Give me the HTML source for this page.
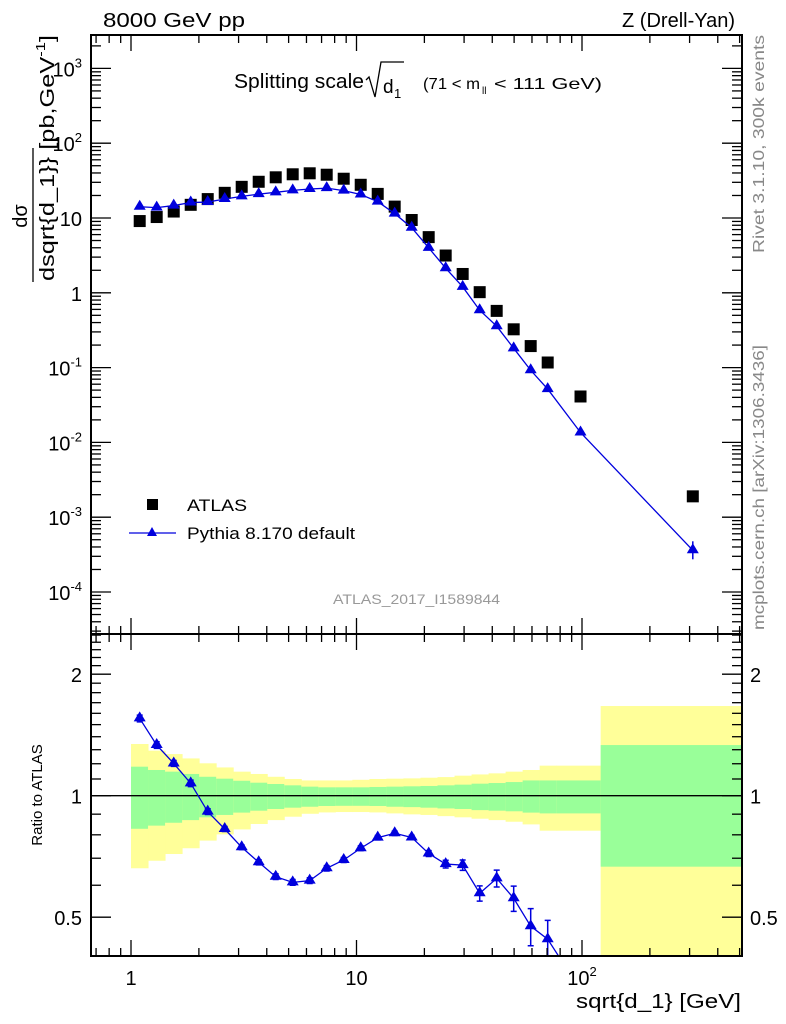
<!DOCTYPE html>
<html><head><meta charset="utf-8"><style>
html,body{margin:0;padding:0;background:#fff;width:786px;height:1024px;overflow:hidden}
svg{display:block;font-family:"Liberation Sans",sans-serif}
</style></head><body>
<svg id="chart" width="786" height="1024" viewBox="0 0 786 1024" xmlns="http://www.w3.org/2000/svg">
<g id="bands"></g>
<g id="marks"></g>
<g id="axes"></g>
<text x="103" y="27" font-size="20" textLength="142" lengthAdjust="spacingAndGlyphs">8000 GeV pp</text>
<text x="735" y="27" font-size="20" text-anchor="end">Z (Drell-Yan)</text>
<g>
<text x="234" y="88" font-size="20" textLength="130" lengthAdjust="spacingAndGlyphs">Splitting scale</text>
<path d="M366,80 l3,-3 l6,20 l6,-35 h23" fill="none" stroke="#000" stroke-width="1.3"/>
<text x="383" y="93" font-size="19">d</text><text x="394" y="98" font-size="13">1</text>
<text x="423" y="89" font-size="16" textLength="57" lengthAdjust="spacingAndGlyphs">(71 &lt; m</text><text x="482" y="94" font-size="10">ll</text><text x="494" y="89" font-size="16" textLength="108" lengthAdjust="spacingAndGlyphs">&lt; 111 GeV)</text>
</g>
<g>
<text transform="translate(27,216) rotate(-90)" font-size="20" text-anchor="middle">dσ</text>
<line x1="33" y1="148" x2="33" y2="282" stroke="#000" stroke-width="1.3"/>
<text transform="translate(54,281) rotate(-90)" font-size="20" textLength="246" lengthAdjust="spacingAndGlyphs">dsqrt{d_1}} [pb,GeV<tspan dy="-9" font-size="13">-1</tspan><tspan dy="9">]</tspan></text>
</g>
<text transform="translate(42,795) rotate(-90)" font-size="15" text-anchor="middle">Ratio to ATLAS</text>
<text x="741" y="1008" font-size="20" text-anchor="end" textLength="165" lengthAdjust="spacingAndGlyphs">sqrt{d_1} [GeV]</text>
<text transform="translate(764,253) rotate(-90)" font-size="16" fill="#888" textLength="218" lengthAdjust="spacingAndGlyphs">Rivet 3.1.10,  300k events</text>
<text transform="translate(764,630) rotate(-90)" font-size="16" fill="#888" textLength="285" lengthAdjust="spacingAndGlyphs">mcplots.cern.ch [arXiv:1306.3436]</text>
<text x="333" y="604" font-size="14" fill="#999" textLength="167" lengthAdjust="spacingAndGlyphs">ATLAS_2017_I1589844</text>
<g>
<rect x="147" y="499" width="11" height="11" fill="#000"/>
<text x="187" y="511" font-size="17" textLength="60" lengthAdjust="spacingAndGlyphs">ATLAS</text>
<line x1="129" y1="533" x2="176" y2="533" stroke="#0000dd" stroke-width="1.3"/>
<path d="M152,527 l5,9 h-10z" fill="#0000dd"/>
<text x="187" y="539" font-size="17" textLength="168" lengthAdjust="spacingAndGlyphs">Pythia 8.170 default</text>
</g>
</svg>
<script>
const xVals=[1.093,1.300,1.547,1.840,2.189,2.604,3.097,3.684,4.383,5.213,6.201,7.377,8.775,10.44,12.42,14.77,17.57,20.90,24.86,29.57,35.18,41.85,49.78,59.22,70.45,98.5,310];
const atlasVals=[9.1,10.3,12.2,15.0,17.9,21.7,26.1,30.5,35.0,38.4,39.6,37.9,33.5,27.8,21.0,14.2,9.4,5.55,3.15,1.785,1.02,0.573,0.325,0.194,0.117,0.0411,0.0019];
const ratioVals=[1.554,1.335,1.202,1.073,0.913,0.827,0.745,0.684,0.630,0.610,0.616,0.661,0.693,0.741,0.787,0.807,0.788,0.719,0.677,0.673,0.573,0.624,0.557,0.475,0.441,0.33,0.19];
const ratioErr=[0.03,0.025,0.02,0.02,0.015,0.012,0.01,0.01,0.01,0.01,0.01,0.01,0.01,0.01,0.01,0.01,0.01,0.012,0.015,0.02,0.025,0.03,0.04,0.05,0.05,0.05,0.03];
const binEdges=[1.0,1.19,1.416,1.685,2.005,2.386,2.839,3.378,4.019,4.782,5.69,6.771,8.057,9.587,11.41,13.57,16.15,19.22,22.87,27.21,32.38,38.53,45.84,54.55,64.9,77.2,121,600];
const yelUp=[1.343,1.293,1.268,1.237,1.203,1.175,1.147,1.132,1.114,1.100,1.091,1.091,1.091,1.095,1.100,1.102,1.104,1.108,1.112,1.121,1.129,1.136,1.147,1.158,1.187,1.187,1.668];
const yelLo=[0.661,0.690,0.717,0.741,0.774,0.802,0.825,0.851,0.870,0.887,0.902,0.909,0.911,0.911,0.909,0.904,0.899,0.896,0.890,0.884,0.877,0.870,0.862,0.849,0.819,0.819,0.3];
const grnUp=[1.180,1.158,1.147,1.132,1.114,1.102,1.089,1.077,1.069,1.061,1.053,1.049,1.049,1.049,1.051,1.053,1.055,1.057,1.061,1.065,1.071,1.075,1.081,1.091,1.091,1.091,1.335];
const grnLo=[0.828,0.843,0.857,0.870,0.884,0.896,0.908,0.918,0.927,0.934,0.939,0.943,0.944,0.944,0.943,0.939,0.937,0.934,0.930,0.927,0.921,0.918,0.915,0.908,0.904,0.904,0.667];
const yTicks=["10^-4","10^-3","10^-2","10^-1","1","10","10^2","10^3"];
const rTicks=["0.5","1","2"];
const xTicks=["1","10","10^2"];

const NS="http://www.w3.org/2000/svg";
const L=91,R=742,T=35,MID=634,B=956;
const sx=v=>131+225.5*Math.log10(v);
const sy=v=>292.8-74.8*Math.log10(v);
const sr=v=>795.7-121.5*Math.log2(v);
function mk(p,t,a){const e=document.createElementNS(NS,t);for(const k in a)e.setAttribute(k,a[k]);p.appendChild(e);return e;}
const bands=document.getElementById('bands'),marks=document.getElementById('marks'),axes=document.getElementById('axes');
const clipR=mk(document.querySelector('svg'),'clipPath',{id:'cr'});mk(clipR,'rect',{x:L,y:MID,width:R-L,height:B-MID});
bands.setAttribute('clip-path','url(#cr)');
for(let i=0;i<yelUp.length;i++){
 const x0=sx(binEdges[i]),x1=sx(binEdges[i+1]);
 let r=mk(bands,'rect',{x:x0,y:sr(yelUp[i]),width:x1-x0+0.5,height:sr(yelLo[i])-sr(yelUp[i]),fill:'#ffff99'});
 
 
 r=mk(bands,'rect',{x:x0,y:sr(grnUp[i]),width:x1-x0+0.5,height:sr(grnLo[i])-sr(grnUp[i]),fill:'#99ff99'});
 
 
}
mk(marks,'line',{x1:L,y1:sr(1),x2:R,y2:sr(1),stroke:'#000','stroke-width':1.3});
let pts=[];
for(let i=0;i<xVals.length;i++){
 const x=sx(xVals[i]),ya=sy(atlasVals[i]);
 const s=mk(marks,'rect',{x:x-6,y:ya-6,width:12,height:12,fill:'#000'});
 
 
 pts.push([x,sy(atlasVals[i]*ratioVals[i])]);
}
mk(marks,'polyline',{points:pts.map(p=>p.join(',')).join(' '),fill:'none',stroke:'#0000dd','stroke-width':1.3});
pts.forEach(p=>{const t=mk(marks,'path',{d:`M${p[0]},${p[1]-7} l6,10 h-12z`,fill:'#0000dd'});
 
 });
const le=pts[pts.length-1];mk(marks,'line',{x1:le[0],y1:le[1]-9,x2:le[0],y2:le[1]+9,stroke:'#0000dd','stroke-width':1.5});
const gR=mk(marks,'g',{'clip-path':'url(#cr)'});
let rp=[];
for(let i=0;i<xVals.length;i++){rp.push([sx(xVals[i]),sr(ratioVals[i])]);}
mk(gR,'polyline',{points:rp.map(p=>p.join(',')).join(' '),fill:'none',stroke:'#0000dd','stroke-width':1.3});
rp.forEach((p,i)=>{
 const y1=sr(ratioVals[i]+ratioErr[i]),y2=sr(ratioVals[i]-ratioErr[i]);
 mk(gR,'path',{d:`M${p[0]},${y1}V${y2}M${p[0]-3},${y1}h6M${p[0]-3},${y2}h6`,stroke:'#0000dd','stroke-width':1.5,fill:'none'});
 const t=mk(gR,'path',{d:`M${p[0]},${p[1]-7} l6,10 h-12z`,fill:'#0000dd'});
 
 
});
mk(axes,'rect',{x:L,y:T,width:R-L,height:MID-T,fill:'none',stroke:'#000','stroke-width':2});
mk(axes,'rect',{x:L,y:MID,width:R-L,height:B-MID,fill:'none',stroke:'#000','stroke-width':2});
const ln=(x1,y1,x2,y2)=>mk(axes,'line',{x1,y1,x2,y2,stroke:'#000','stroke-width':1.3});
function lab(s,x,y,anchor,size){const t=mk(axes,'text',{x,y,'text-anchor':anchor,'font-size':size});
 const m=s.match(/^10\^(.*)$/);if(m){t.textContent='10';const sp=mk(t,'tspan',{dy:-9,'font-size':size*0.65});sp.textContent=m[1];}else t.textContent=s;return t;}
for(let d=-1;d<=2;d++)for(let k=1;k<10;k++){const v=k*Math.pow(10,d);const x=sx(v);if(x<L||x>R)continue;
 const len=k===1?16:8;
 for(const [y0,dir] of [[T,1],[MID,-1],[MID,1],[B,-1]])ln(x,y0,x,y0+dir*len);}
xTicks.forEach((s,i)=>{const t=lab(s,sx(Math.pow(10,i)),985,'middle',20);});
for(let d=-5;d<=3;d++)for(let k=1;k<10;k++){const v=k*Math.pow(10,d);const y=sy(v);if(y<T||y>MID)continue;
 const len=k===1?20:10;ln(L,y,L+len,y);ln(R,y,R-len,y);}
yTicks.forEach((s,i)=>{const t=lab(s,82,sy(Math.pow(10,i-4))+8,'end',20);});
[0.4,0.5,0.6,0.7,0.8,0.9,1,1.1,1.2,1.3,1.4,1.5,1.6,1.7,1.8,1.9,2,2.1,2.2,2.3,2.4,2.5].forEach(v=>{const y=sr(v);if(y<MID||y>B)return;
 const big=(v===0.5||v===1||v===2);const len=big?20:10;ln(L,y,L+len,y);ln(R,y,R-len,y);});
rTicks.forEach(s=>{const v=parseFloat(s);
 let t=lab(s,82,sr(v)+8,'end',20);
 t=lab(s,750,sr(v)+8,'start',20);});
</script>
</body></html>
